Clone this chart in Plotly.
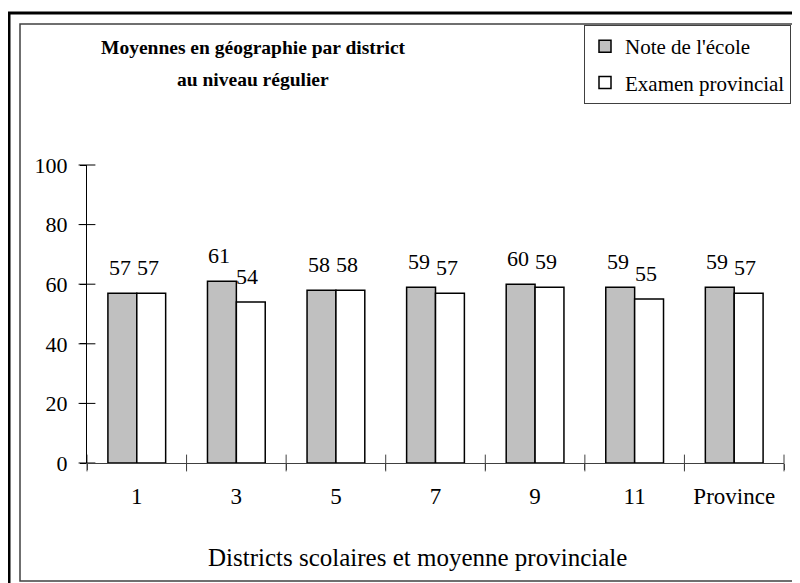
import plotly.graph_objects as go

districts = ["1", "3", "5", "7", "9", "11", "Province"]
note_ecole = [57, 61, 58, 59, 60, 59, 59]
examen_prov = [57, 54, 58, 57, 59, 55, 57]
y_ticks = [0, 20, 40, 60, 80, 100]

FONT = "Liberation Serif"

# page has an 8px body margin, so figure coords = page coords - 8
W, H = 792, 575
OFF = 8
# plot area on the page: x 87..784, y 165..463
L, R, T, B = 87 - OFF, W - (784 - OFF), 165 - OFF, H - (463 - OFF)
PW, PH = W - L - R, H - T - B


def px(x):
    return (x - OFF - L) / PW


def py(y):
    return (H - B - (y - OFF)) / PH


n = len(districts)

fig = go.Figure()
fig.add_trace(go.Bar(x=districts, y=note_ecole, name="Note de l'école",
                     marker=dict(color="#c0c0c0", line=dict(color="black", width=1.5)),
                     legendgroup="a"))
fig.add_trace(go.Bar(x=districts, y=examen_prov, name="Examen provincial",
                     marker=dict(color="white", line=dict(color="black", width=1.5)),
                     legendgroup="b"))

# Excel-style ticks that cross the axis lines, on a hidden linear x axis
bounds = [k - 0.5 for k in range(n + 1)]
fig.add_trace(go.Scatter(x=bounds, y=[0] * len(bounds), xaxis="x2", mode="markers",
                         marker=dict(symbol="line-ns", size=12,
                                     line=dict(color="#404040", width=1)),
                         showlegend=False, hoverinfo="skip", cliponaxis=False))
fig.add_trace(go.Scatter(x=[-0.5] * len(y_ticks), y=y_ticks, xaxis="x2", mode="markers",
                         marker=dict(symbol="line-ew", size=12,
                                     line=dict(color="black", width=1)),
                         showlegend=False, hoverinfo="skip", cliponaxis=False))

# value labels above bars (category index used as x)
for i in range(n):
    for val, shift in ((note_ecole[i], -17), (examen_prov[i], 11)):
        fig.add_annotation(x=i, y=val, xref="x", yref="y", text=str(val), showarrow=False,
                           xshift=shift, yshift=26, yanchor="middle",
                           font=dict(family=FONT, size=22, color="black"))

fig.update_layout(
    width=W, height=H,
    margin=dict(l=L, r=R, t=T, b=B, autoexpand=False),
    paper_bgcolor="white", plot_bgcolor="white",
    barmode="group", bargap=0.42, bargroupgap=0,
    font=dict(family=FONT, size=20, color="black"),
    showlegend=True,
    legend=dict(xref="container", yref="container",
                x=(791 - OFF) / W, y=1 - (25 - OFF) / H, xanchor="right", yanchor="top",
                bordercolor="#404040", borderwidth=1, bgcolor="white",
                font=dict(family=FONT, size=21), traceorder="grouped",
                tracegroupgap=6, itemwidth=30),
    xaxis=dict(type="category", categoryarray=districts, range=[-0.5, n - 0.5],
               showline=True, linecolor="#404040", linewidth=1, tickangle=0,
               ticks="outside", tickson="boundaries", ticklen=6, tickcolor="#404040",
               showgrid=False, zeroline=False, ticklabelstandoff=12,
               tickfont=dict(family=FONT, size=23)),
    xaxis2=dict(overlaying="x", range=[-0.5, n - 0.5], visible=False),
    yaxis=dict(range=[0, 100], tickvals=y_ticks, showline=True, linecolor="black",
               linewidth=1, ticks="outside", ticklen=6, tickcolor="black",
               showgrid=False, zeroline=False, ticklabelstandoff=8,
               tickfont=dict(family=FONT, size=22)),
)

title_lines = ["Moyennes en géographie par district", "au niveau régulier"]
for line, ypx in zip(title_lines, (47, 80)):
    fig.add_annotation(x=px(253), y=py(ypx), xref="paper", yref="paper",
                       text="<b>" + line + "</b>", showarrow=False,
                       xanchor="center", yanchor="middle",
                       font=dict(family=FONT, size=19.5, color="black"))

# x axis title, placed like the original (left of the plot centre)
fig.add_annotation(x=px(417), y=py(557), xref="paper", yref="paper",
                   text="Districts scolaires et moyenne provinciale", showarrow=False,
                   xanchor="center", yanchor="middle",
                   font=dict(family=FONT, size=25, color="black"))

# outer thick frame and inner thin frame
fig.add_shape(type="rect", xref="paper", yref="paper",
              x0=px(9), x1=px(803), y0=py(586), y1=py(13),
              line=dict(color="black", width=3), layer="above")
fig.add_shape(type="rect", xref="paper", yref="paper",
              x0=px(20), x1=px(804), y0=py(581), y1=py(24),
              line=dict(color="#404040", width=1.5), layer="above")

fig.write_html("out.html")
